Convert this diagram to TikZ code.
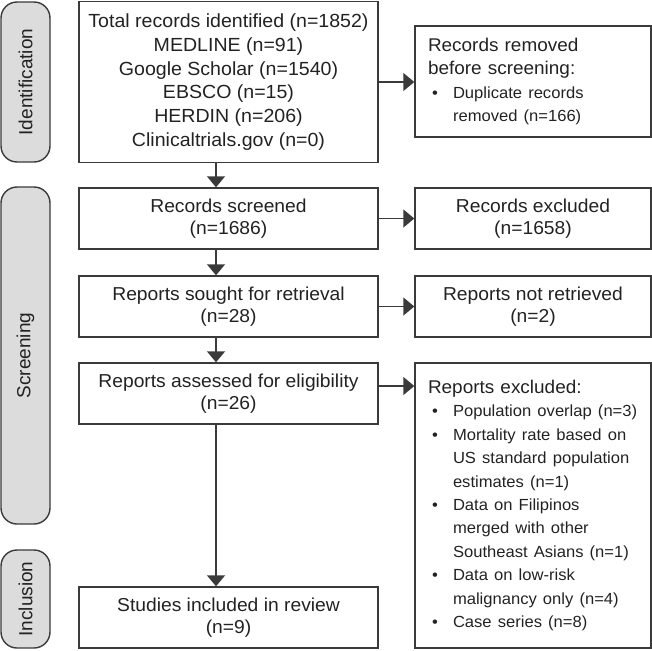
\documentclass[tikz,border=0pt]{standalone}
\usepackage{fontspec}
\setmainfont{Liberation Sans}[FakeStretch=1.03]
\newfontfamily\labfont{Liberation Sans}
\usetikzlibrary{arrows.meta}
\definecolor{bord}{HTML}{3A3A3A}
\definecolor{labfill}{HTML}{DCDCDC}
\definecolor{txt}{HTML}{222222}
\newcommand\hfnt{\fontsize{18.7pt}{22pt}\selectfont}
\newcommand\rfnt{\fontsize{18.4pt}{23.4pt}\selectfont}
\newcommand\bfnt{\fontsize{16.1pt}{23.4pt}\selectfont}
\newcommand\bl[1]{\mbox{\bfnt\makebox[25pt][l]{\hspace{4pt}\textbullet}#1}}
\newcommand\il[1]{\mbox{\bfnt\hspace*{25pt}#1}}
\begin{document}
\begin{tikzpicture}[x=1pt,y=-1pt,
  box/.style={draw=bord, line width=1.4pt, inner sep=0pt, align=center, text=txt, font=\hfnt, minimum width=299pt},
  sbox/.style={box, minimum width=236pt},
  rbox/.style={draw=bord, line width=1.4pt, inner xsep=13pt, inner ysep=0pt, text width=210pt, minimum width=236pt, align=left, text=txt, font=\rfnt},
  lab/.style={draw=bord, fill=labfill, line width=1.4pt, rounded corners=16pt, rotate=90, minimum height=49pt, inner sep=0pt, text=txt, font=\labfont\fontsize{19pt}{22pt}\selectfont},
  arr/.style={draw=bord, line width=1.4pt, -{Triangle[length=11pt,width=18pt]}}]

\useasboundingbox (0,0) rectangle (652,650);

% phase labels
\node[lab, minimum width=160pt] (lid) at (25.5,82) {Identification};
\node[lab, minimum width=337pt] (lsc) at (25.5,355.5) {Screening};
\node[lab, minimum width=98pt] (lin) at (25.5,599) {Inclusion};

% main column
\node[box, minimum height=161pt, font=\fontsize{19pt}{23.7pt}\selectfont] (b1) at (228.5,82)
  {Total records identified (n=1852)\\MEDLINE (n=91)\\Google Scholar (n=1540)\\EBSCO (n=15)\\HERDIN (n=206)\\Clinicaltrials.gov (n=0)};
\node[box, minimum height=61pt] (b2) at (228.5,218.5) {Records screened\\(n=1686)};
\node[box, minimum height=61pt] (b3) at (228.5,306.5) {Reports sought for retrieval\\(n=28)};
\node[box, minimum height=61pt] (b4) at (228.5,393.5) {Reports assessed for eligibility\\(n=26)};
\node[box, minimum height=61pt] (b5) at (228.5,617.5) {Studies included in review\\(n=9)};

% right column
\node[rbox, minimum height=111pt] (r1) at (533,81.5)
  {Records removed\\before screening:\\\bl{Duplicate records}\\\il{removed (n=166)}};
\node[sbox, minimum height=61pt] (r2) at (533,218.5) {Records excluded\\(n=1658)};
\node[sbox, minimum height=61pt] (r3) at (533,306.5) {Reports not retrieved\\(n=2)};
\node[rbox, minimum height=285pt] (r4) at (533,505.5)
  {Reports excluded:\\
   \bl{Population overlap (n=3)}\\
   \bl{Mortality rate based on}\\
   \il{US standard population}\\
   \il{estimates (n=1)}\\
   \bl{Data on Filipinos}\\
   \il{merged with other}\\
   \il{Southeast Asians (n=1)}\\
   \bl{Data on low-risk}\\
   \il{malignancy only (n=4)}\\
   \bl{Case series (n=8)}};

% connectors
\coordinate (ax) at (216,0);
\coordinate (a1) at (0,82);
\coordinate (a4) at (0,386);
\draw[arr] (b1.south -| ax) -- (b2.north -| ax);
\draw[arr] (b2.south -| ax) -- (b3.north -| ax);
\draw[arr] (b3.south -| ax) -- (b4.north -| ax);
\draw[arr] (b4.south -| ax) -- (b5.north -| ax);
\draw[arr] (b1.east |- a1) -- (r1.west |- a1);
\draw[arr] (b2.east) -- (r2.west);
\draw[arr] (b3.east) -- (r3.west);
\draw[arr] (b4.east |- a4) -- (r4.west |- a4);
\end{tikzpicture}
\end{document}
